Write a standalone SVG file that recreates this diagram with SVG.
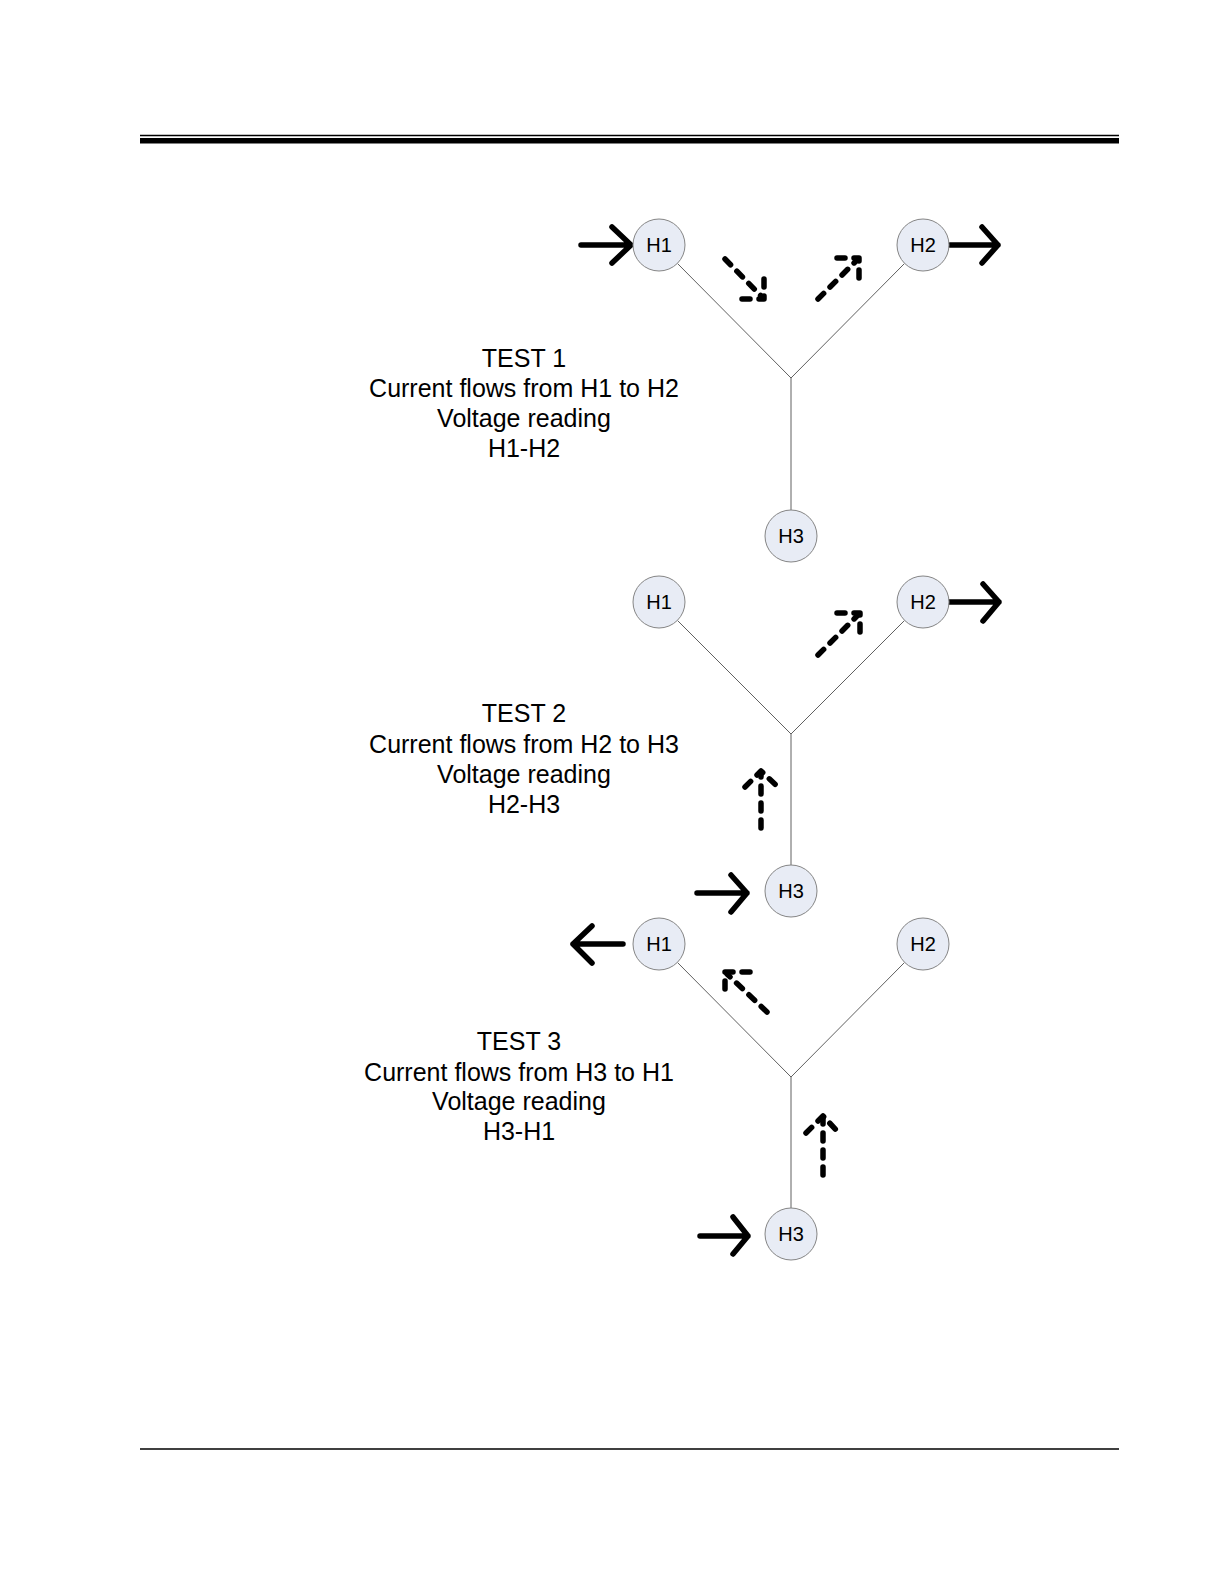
<svg xmlns="http://www.w3.org/2000/svg" width="1224" height="1584" viewBox="0 0 1224 1584">
<style>
.node circle{fill:#e8ecf5;stroke:#858585;stroke-width:1}
.node text{font-family:"Liberation Sans",Arial,sans-serif;font-size:20px;fill:#000;text-anchor:middle}
.wire{stroke:#606060;stroke-width:1;fill:none}
.sa{stroke:#000;stroke-width:5.5;fill:none;stroke-linecap:round;stroke-linejoin:round}
.da{stroke:#000;stroke-width:5.5;fill:none;stroke-linecap:round;stroke-linejoin:round;stroke-dasharray:8 9}
.lbl{font-family:"Liberation Sans",Arial,sans-serif;font-size:25px;fill:#000;text-anchor:middle}
</style>
<rect width="1224" height="1584" fill="#fff"/>
<g id="rules">
<line x1="140" y1="135.5" x2="1119" y2="135.5" stroke="#000" stroke-width="1.5"/>
<rect x="140" y="138" width="979" height="5.5" fill="#000"/>
<line x1="140" y1="1449" x2="1119" y2="1449" stroke="#000" stroke-width="1.5"/>
</g>
<g id="connectors">
<path class="wire" d="M677.4,263.4 L791,378 L904.6,263.4 M791,378 V510"/>
<path class="wire" d="M677.4,620.4 L791,734 L904.6,620.4 M791,734 V865"/>
<path class="wire" d="M677.4,962.4 L791,1077 L904.6,962.4 M791,1077 V1208"/>
<path class="sa" d="M581,245 H631 M612,227 L631,245 L612,263"/>
<path class="sa" d="M950,245 H998 M982,227 L998,245 L982,263"/>
<path class="sa" d="M948,602 H999 M983,584 L999,602 L983,621"/>
<path class="sa" d="M697,893 H747 M731,875 L747,893 L731,912"/>
<path class="sa" d="M623,944 H573 M592,926 L573,944 L592,963"/>
<path class="sa" d="M700,1236 H748 M733,1217 L748,1236 L733,1254"/>
<path class="da" d="M725,259 L762,297"/>
<path class="da" d="M742,299 L764,299 L764,277"/>
<path class="da" d="M818,299 L857,260"/>
<path class="da" d="M837,258 L859,258 L859,280"/>
<path class="da" d="M818,655 L858,615"/>
<path class="da" d="M837,613 L860,613 L860,637"/>
<path class="da" d="M761,828 L761,774"/>
<path class="da" d="M745,787 L761,771 L778,787"/>
<path class="da" d="M767,1012 L727,974"/>
<path class="da" d="M750,972 L725,972 L725,995"/>
<path class="da" d="M823,1175 L823,1118"/>
<path class="da" d="M806,1133 L823,1116 L839,1133"/>
</g>
<g id="t1-h1" class="node"><circle cx="659" cy="245" r="26"/><text x="659" y="252">H1</text></g>
<g id="t1-h2" class="node"><circle cx="923" cy="245" r="26"/><text x="923" y="252">H2</text></g>
<g id="t1-h3" class="node"><circle cx="791" cy="536" r="26"/><text x="791" y="543">H3</text></g>
<g id="t2-h1" class="node"><circle cx="659" cy="602" r="26"/><text x="659" y="609">H1</text></g>
<g id="t2-h2" class="node"><circle cx="923" cy="602" r="26"/><text x="923" y="609">H2</text></g>
<g id="t2-h3" class="node"><circle cx="791" cy="891" r="26"/><text x="791" y="898">H3</text></g>
<g id="t3-h1" class="node"><circle cx="659" cy="944" r="26"/><text x="659" y="951">H1</text></g>
<g id="t3-h2" class="node"><circle cx="923" cy="944" r="26"/><text x="923" y="951">H2</text></g>
<g id="t3-h3" class="node"><circle cx="791" cy="1234" r="26"/><text x="791" y="1241">H3</text></g>
<g id="label-test1" class="lbl">
<text x="524" y="366.5">TEST 1</text>
<text x="524" y="397">Current flows from H1 to H2</text>
<text x="524" y="427">Voltage reading</text>
<text x="524" y="457">H1-H2</text>
</g>
<g id="label-test2" class="lbl">
<text x="524" y="722">TEST 2</text>
<text x="524" y="752.5">Current flows from H2 to H3</text>
<text x="524" y="782.5">Voltage reading</text>
<text x="524" y="812.5">H2-H3</text>
</g>
<g id="label-test3" class="lbl">
<text x="519" y="1050">TEST 3</text>
<text x="519" y="1080.5">Current flows from H3 to H1</text>
<text x="519" y="1110">Voltage reading</text>
<text x="519" y="1140">H3-H1</text>
</g>
</svg>
